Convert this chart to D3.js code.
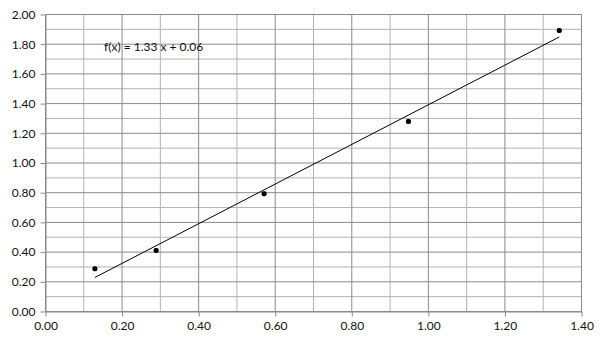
<!DOCTYPE html>
<html><head><meta charset="utf-8">
<script src="https://cdn.jsdelivr.net/npm/d3@7"></script>
<style>body{margin:0;background:#fff}svg{display:block}text{font-family:Lato,"Liberation Sans",sans-serif}</style>
</head><body><svg id="c" width="605" height="340"></svg>
<script>
const xValues = [0.129, 0.289, 0.571, 0.948, 1.342];
const yValues = [0.288, 0.411, 0.793, 1.279, 1.892];
const xTicks = [0, 0.2, 0.4, 0.6, 0.8, 1.0, 1.2, 1.4];
const yTicks = [0, 0.2, 0.4, 0.6, 0.8, 1.0, 1.2, 1.4, 1.6, 1.8, 2.0];
const xMinor = [0.1, 0.3, 0.5, 0.7, 0.9, 1.1, 1.3];
const yMinor = [0.1, 0.3, 0.5, 0.7, 0.9, 1.1, 1.3, 1.5, 1.7, 1.9];
const equationLabel = "f(x) = 1.33 x + 0.06";

const svg = d3.select("#c");
const x = d3.scaleLinear().domain([0, 1.4]).range([45.5, 581.5]);
const y = d3.scaleLinear().domain([0, 2]).range([311.5, 14.5]);

const g = svg.append("g");
g.selectAll(".vmin").data(xMinor).join("line")
  .attr("x1", d => x(d)).attr("x2", d => x(d)).attr("y1", y(0)).attr("y2", y(2))
  .attr("stroke", "#b3b3b3").attr("stroke-width", 1);
g.selectAll(".hmin").data(yMinor).join("line")
  .attr("y1", d => y(d)).attr("y2", d => y(d)).attr("x1", x(0)).attr("x2", x(1.4))
  .attr("stroke", "#b3b3b3").attr("stroke-width", 1);
g.selectAll(".vmaj").data(xTicks).join("line")
  .attr("x1", d => x(d)).attr("x2", d => x(d)).attr("y1", y(0)).attr("y2", y(2))
  .attr("stroke", "#8a8a8a").attr("stroke-width", 1);
g.selectAll(".hmaj").data(yTicks).join("line")
  .attr("y1", d => y(d)).attr("y2", d => y(d)).attr("x1", x(0)).attr("x2", x(1.4))
  .attr("stroke", "#8a8a8a").attr("stroke-width", 1);

const xAxis = svg.append("g").attr("transform", `translate(0,${y(0)})`)
  .call(d3.axisBottom(x).tickValues(xTicks).tickFormat(d3.format(".2f")).tickSize(5).tickSizeOuter(0).tickPadding(5));
const yAxis = svg.append("g").attr("transform", `translate(${x(0)},0)`)
  .call(d3.axisLeft(y).tickValues(yTicks).tickFormat(d3.format(".2f")).tickSize(5).tickSizeOuter(0).tickPadding(5));
[xAxis, yAxis].forEach(a => {
  a.select(".domain").attr("stroke", "#8a8a8a");
  a.selectAll(".tick line").attr("stroke", "#8a8a8a");
  a.selectAll("text").attr("font-size", 12).attr("fill", "#111").attr("font-family", "Lato, 'Liberation Sans', sans-serif");
});

// regression
const n = xValues.length;
const mx = d3.mean(xValues), my = d3.mean(yValues);
let sxy = 0, sxx = 0;
for (let i = 0; i < n; i++) { sxy += (xValues[i]-mx)*(yValues[i]-my); sxx += (xValues[i]-mx)**2; }
const slope = sxy / sxx, intercept = my - slope * mx;
const x0 = d3.min(xValues), x1 = d3.max(xValues);
svg.append("line")
  .attr("x1", x(x0)).attr("y1", y(slope*x0+intercept))
  .attr("x2", x(x1)).attr("y2", y(slope*x1+intercept))
  .attr("stroke", "#000").attr("stroke-width", 1);

svg.selectAll(".pt").data(xValues).join("rect")
  .attr("x", (d) => x(d) - 2.5).attr("y", (d, i) => y(yValues[i]) - 2.5)
  .attr("width", 5).attr("height", 5).attr("rx", 1.8).attr("fill", "#000");

svg.append("text").attr("x", 104).attr("y", 51).attr("font-size", 12).attr("fill", "#111")
  .text(equationLabel);
</script></body></html>
